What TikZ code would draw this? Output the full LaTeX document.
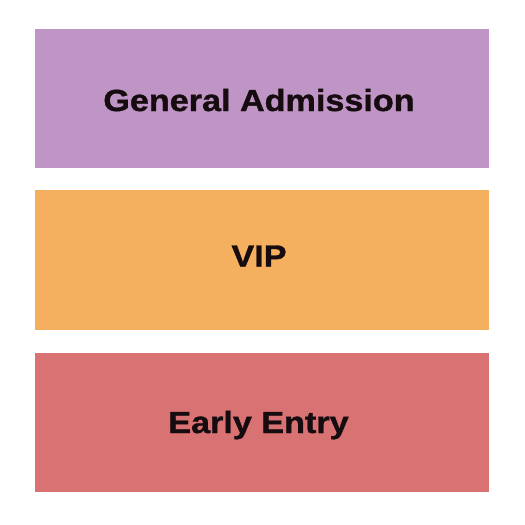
\documentclass[tikz,border=0pt]{standalone}
\usepackage{fontspec}
\newfontfamily\seatfont{Liberation Sans}[FakeStretch=1.12, BoldFeatures={FakeBold=1.2}]
\usetikzlibrary{positioning}

\definecolor{gapurple}{RGB}{191,149,197}
\definecolor{viporange}{RGB}{244,176,94}
\definecolor{earlyred}{RGB}{217,115,115}
\definecolor{labelink}{RGB}{22,12,16}

\begin{document}
\begin{tikzpicture}[x=1pt, y=-1pt]
\tikzstyle{section} = [rectangle, draw=none, minimum width=454pt, inner sep=0pt, outer sep=0pt]
\tikzstyle{seatlabel} = [anchor=base, inner sep=0pt, text=labelink, font=\seatfont\bfseries\fontsize{30.5}{36}\selectfont]

\useasboundingbox (0,0) rectangle (525,525);

\node[section, fill=gapurple, minimum height=139pt] (general) at (262,98.3) {};
\node[section, fill=viporange, minimum height=139.5pt] (vip) at (262,259.8) {};
\node[section, fill=earlyred, minimum height=139.5pt] (early) at (262,422.5) {};

\node[seatlabel] (generaltext) at (259,111) {General Admission};
\node[seatlabel] (viptext) at (259,266.5) {VIP};
\node[seatlabel] (earlytext) at (258.5,433) {Early Entry};
\end{tikzpicture}
\end{document}
